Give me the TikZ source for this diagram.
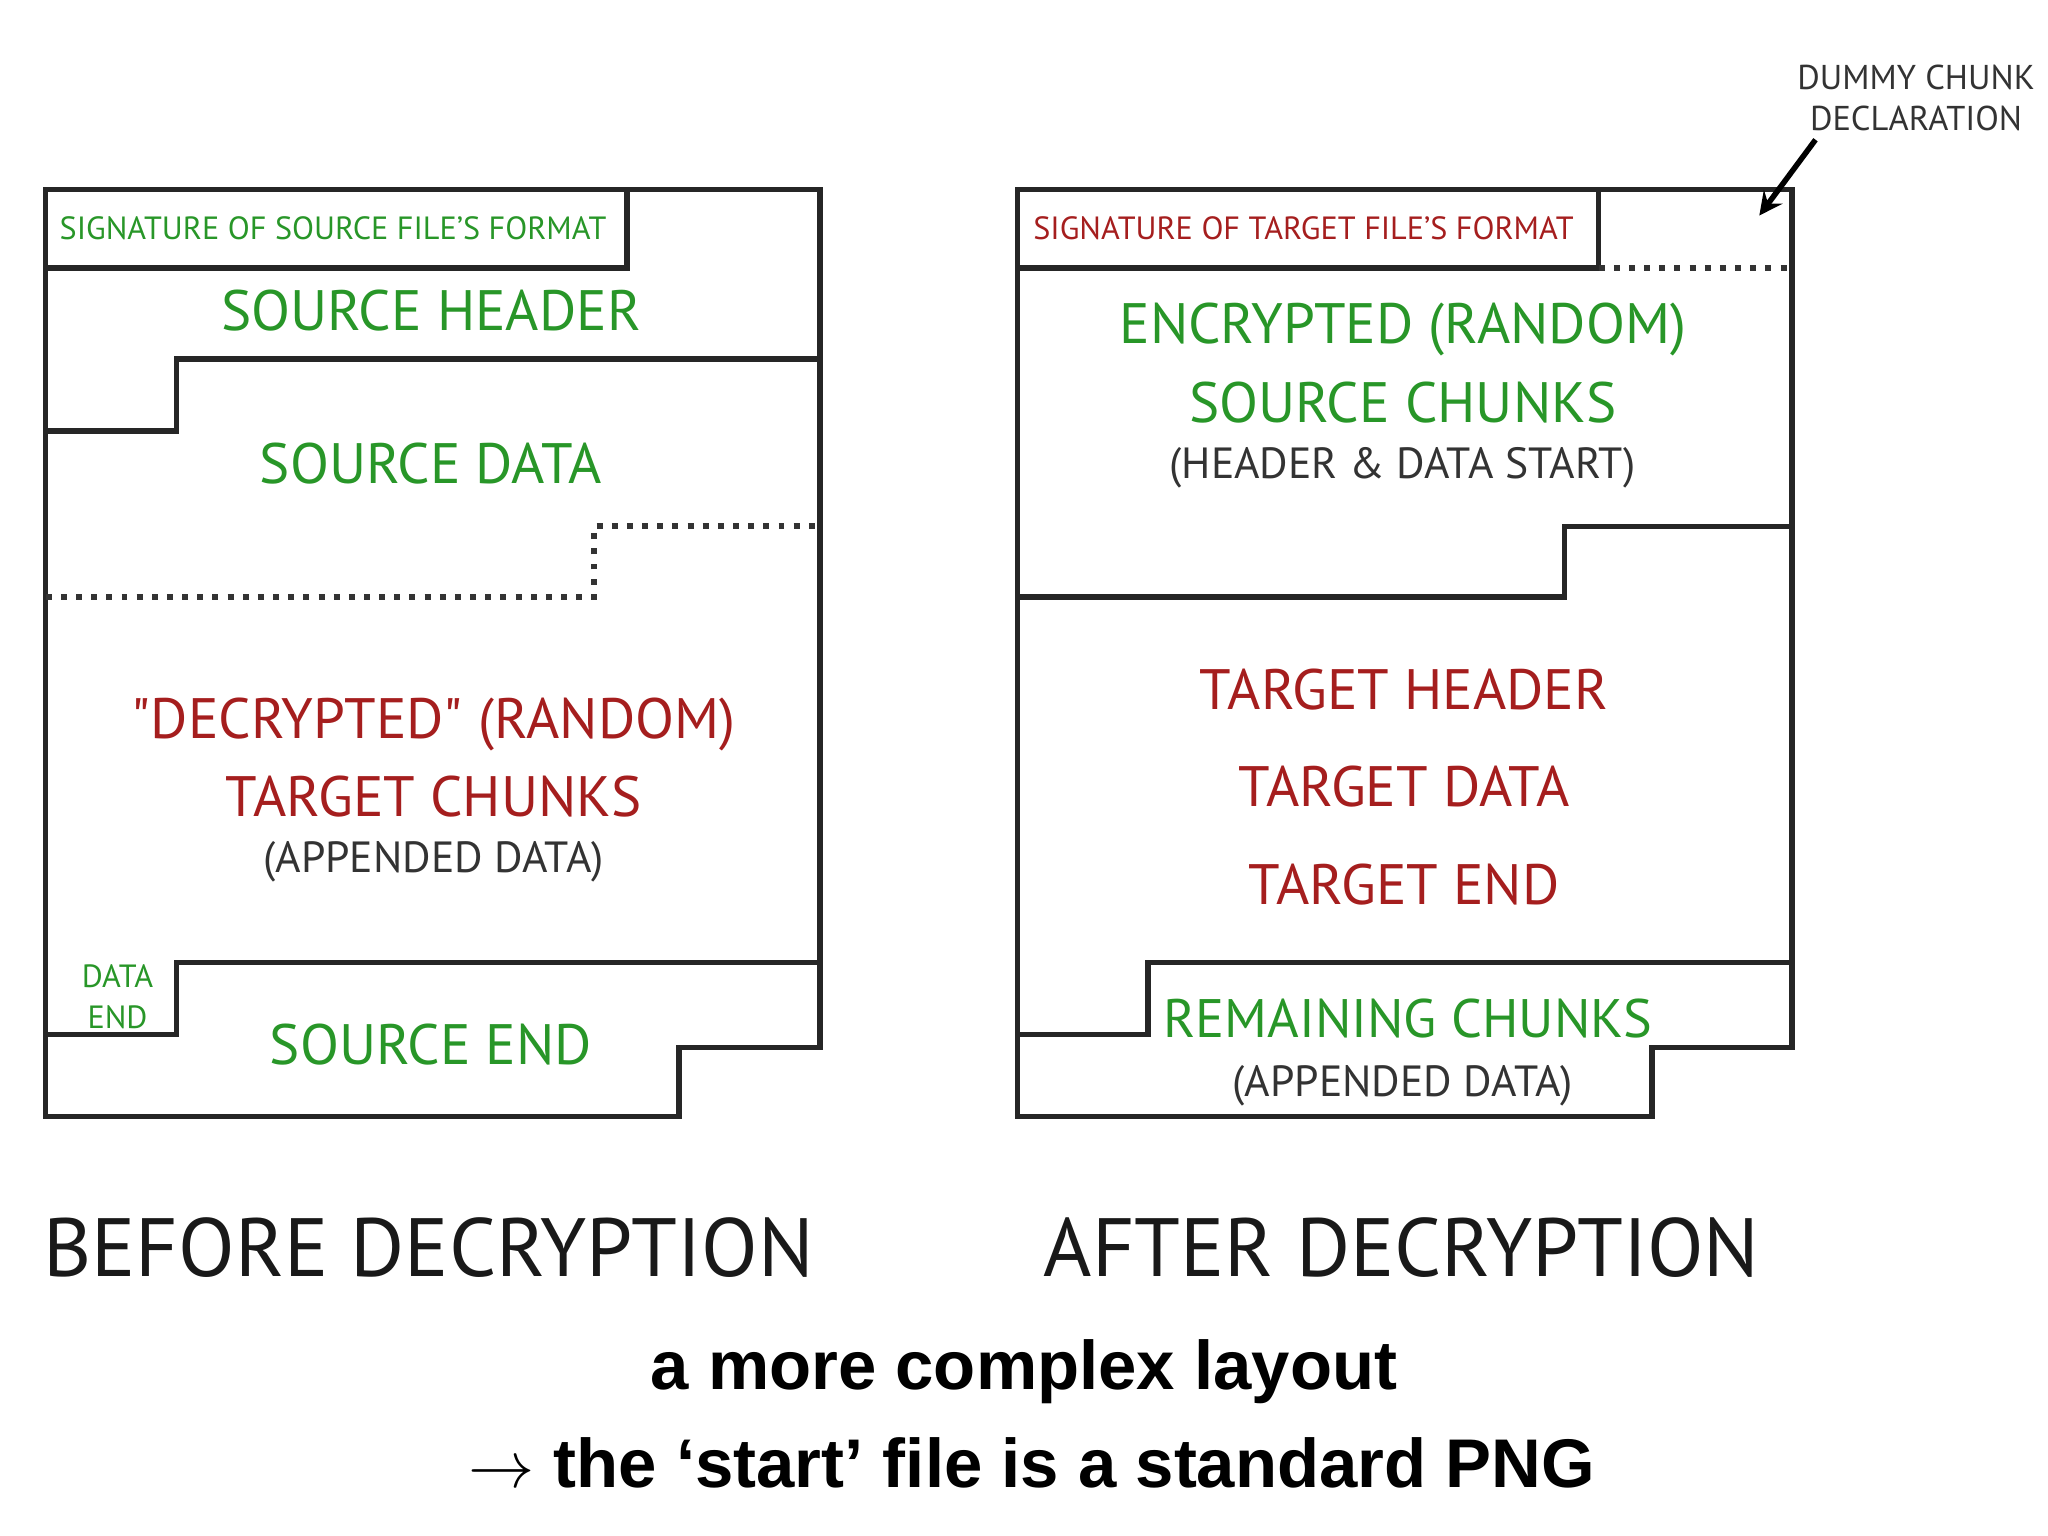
\documentclass[tikz,border=0pt]{standalone}
\usepackage{fontspec}
\setmainfont{PT Sans}
\newfontfamily\boldsans{Liberation Sans}
\definecolor{gr}{RGB}{40,150,40}
\definecolor{rd}{RGB}{165,30,30}
\begin{document}
\begin{tikzpicture}[x=0.01cm,y=-0.01cm,
 ln/.style={line width=1.2pt,black!85},
 dt/.style={line width=1.3pt,dotted,black!80},
 big/.style={font=\fontsize{12.4}{17}\selectfont},
 sig/.style={font=\fontsize{7}{9}\selectfont},
 small/.style={font=\fontsize{9.5}{12}\selectfont,black!80},
 title/.style={font=\fontsize{18}{22}\selectfont,black!90}]
\useasboundingbox (0,0) rectangle (1568,1176);
% left
\draw[ln] (628,145) -- (628,802) -- (520,802) -- (520,855) -- (35,855) -- (35,145) -- cycle;
\draw[ln] (35,205) -- (480,205) -- (480,145);
\draw[ln] (628,275) -- (135,275) -- (135,330) -- (35,330);
\draw[dt] (35,457) -- (455,457) -- (455,403) -- (628,403);
\draw[ln] (628,737) -- (135,737) -- (135,792) -- (35,792);
\node[sig,text=gr] (ls) at (255,175) {SIGNATURE OF SOURCE FILE'S FORMAT};
\node[big,text=gr] (lh) at (330,238) {SOURCE HEADER};
\node[big,text=gr] (ld) at (330,355) {SOURCE DATA};
\node[big,text=rd,align=center] (lt) at (332,580) {\textquotedbl DECRYPTED\textquotedbl\ (RANDOM)\\TARGET CHUNKS};
\node[small] (la) at (332,660) {(APPENDED DATA)};
\node[sig,text=gr,align=center] (lde) at (90,763) {DATA\\END};
\node[big,text=gr] (le) at (330,800) {SOURCE END};
% right
\draw[ln] (1372,145) -- (1372,802) -- (1265,802) -- (1265,855) -- (779,855) -- (779,145) -- cycle;
\draw[ln] (779,205) -- (1224,205) -- (1224,145);
\draw[dt] (1224,205) -- (1372,205);
\draw[ln] (1372,403) -- (1198,403) -- (1198,457) -- (779,457);
\draw[ln] (1372,737) -- (879,737) -- (879,792) -- (779,792);
\node[sig,text=rd] (rs) at (998,175) {SIGNATURE OF TARGET FILE'S FORMAT};
\node[big,text=gr,align=center] (re) at (1074,278) {ENCRYPTED (RANDOM)\\SOURCE CHUNKS};
\node[small] (rhd) at (1074,358) {(HEADER \& DATA START)};
\node[big,text=rd] (rth) at (1075,528) {TARGET HEADER};
\node[big,text=rd] (rtd) at (1075,602) {TARGET DATA};
\node[big,text=rd] (rte) at (1075,677) {TARGET END};
\node[font=\fontsize{11.8}{15}\selectfont,text=gr] (rr) at (1078,780) {REMAINING CHUNKS};
\node[small] (ra) at (1074,831) {(APPENDED DATA)};
\node[font=\fontsize{7.5}{9}\selectfont,black!80,align=center] (dm) at (1467,75) {DUMMY CHUNK\\DECLARATION};
\coordinate (dmt) at (1347,165);
\draw[line width=1.2pt,-stealth] (1390,107) -- (dmt);
% titles
\node[title] (bt) at (328,955) {BEFORE DECRYPTION};
\node[title] (at) at (1073,955) {AFTER DECRYPTION};
\node[font=\boldsans\bfseries\fontsize{15}{18}\selectfont] (c1) at (784,1050) {a more complex layout};
\node[font=\boldsans\bfseries\fontsize{15}{18}\selectfont] (c2) at (790,1120) {$\rightarrow$ the ‘start’ file is a standard PNG};
\end{tikzpicture}
\end{document}
